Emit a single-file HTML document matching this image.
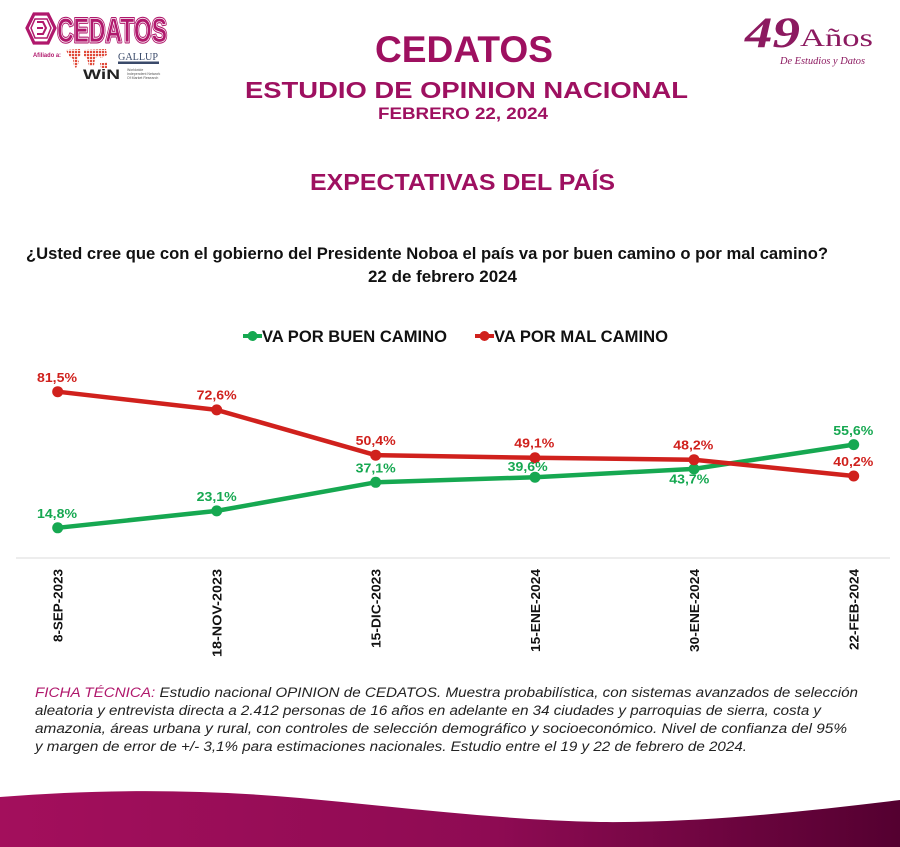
<!DOCTYPE html>
<html>
<head>
<meta charset="utf-8">
<style>
  html,body{margin:0;padding:0;background:#fff;}
  body{width:900px;height:847px;overflow:hidden;}
  svg{display:block;}
</style>
</head>
<body>
<svg width="900" height="847" viewBox="0 0 900 847" xmlns="http://www.w3.org/2000/svg">
  <defs>
    <linearGradient id="band" x1="0" y1="0" x2="1" y2="0">
      <stop offset="0" stop-color="#a30f5c"/>
      <stop offset="0.55" stop-color="#8e0b53"/>
      <stop offset="1" stop-color="#540030"/>
    </linearGradient>
    <pattern id="dots" width="3" height="3" patternUnits="userSpaceOnUse">
      <rect width="2.2" height="2.2" fill="#e04a3a"/>
    </pattern>
  </defs>
  <rect width="900" height="847" fill="#ffffff"/>

  <!-- CEDATOS logo -->
  <g>
    <polygon points="34,14 48,14 55,28 48,43 34,43 27,28" fill="#fff" stroke="#b0186c" stroke-width="3.2"/>
    <polygon points="35,19 47,19 51,28 47,38 35,38 31,28" fill="none" stroke="#b0186c" stroke-width="1.5"/>
    <path d="M37,22 L43,22 L46,28 L43,34 L37,34 M37,28 L43,28" fill="none" stroke="#b0186c" stroke-width="2"/>
    <text x="57" y="42" font-family="Liberation Sans, sans-serif" font-weight="bold" font-size="34" fill="#b0186c" stroke="#b0186c" stroke-width="3" stroke-linejoin="round" textLength="110" lengthAdjust="spacingAndGlyphs">CEDATOS</text>
    <text x="57" y="42" font-family="Liberation Sans, sans-serif" font-weight="bold" font-size="34" fill="none" stroke="#fff" stroke-width="0.8" textLength="110" lengthAdjust="spacingAndGlyphs">CEDATOS</text>
    <text x="33" y="57" font-family="Liberation Sans, sans-serif" font-weight="bold" font-size="6" fill="#b0186c" textLength="28" lengthAdjust="spacingAndGlyphs">Afiliado a:</text>
    <!-- world map dots -->
    <g fill="url(#dots)">
      <path d="M66,50 L80,49 L81,55 L77,58 L79,62 L76,68 L74,66 L73,59 L69,56 Z"/>
      <path d="M84,50 L106,49 L107,55 L101,58 L99,56 L95,58 L94,66 L89,66 L87,58 L84,56 Z"/>
      <path d="M100,63 L107,62 L107,68 L101,68 Z"/>
    </g>
    <text x="118" y="60" font-family="Liberation Serif, serif" font-size="10" fill="#3a4a6a" textLength="40" lengthAdjust="spacingAndGlyphs">GALLUP</text>
    <rect x="118" y="61.5" width="41" height="2.5" fill="#3a4a6a"/>
    <text x="83" y="79" font-family="Liberation Sans, sans-serif" font-weight="bold" font-size="14" fill="#222" textLength="37" lengthAdjust="spacingAndGlyphs">WiN</text>
    <g font-family="Liberation Sans, sans-serif" font-size="3.5" fill="#555">
      <text x="127" y="71">Worldwide</text>
      <text x="127" y="75">Independent Network</text>
      <text x="127" y="79">Of Market Research</text>
    </g>
  </g>

  <!-- 49 Años logo -->
  <g fill="#8c1a60">
    <text x="745" y="47" font-family="Liberation Serif, serif" font-style="italic" font-weight="bold" font-size="43" textLength="55" lengthAdjust="spacingAndGlyphs">49</text>
    <text x="800" y="46" font-family="Liberation Serif, serif" font-size="25" textLength="73" lengthAdjust="spacingAndGlyphs">Años</text>
    <text x="780" y="64" font-family="Liberation Serif, serif" font-style="italic" font-size="10" textLength="85" lengthAdjust="spacingAndGlyphs">De Estudios y Datos</text>
  </g>

  <!-- Titles -->
  <g font-family="Liberation Sans, sans-serif" font-weight="bold" fill="#9e1060" text-anchor="start">
    <text x="375" y="62" font-size="37" textLength="178" lengthAdjust="spacingAndGlyphs">CEDATOS</text>
    <text x="245" y="98" font-size="23" textLength="443" lengthAdjust="spacingAndGlyphs">ESTUDIO DE OPINION NACIONAL</text>
    <text x="378" y="119" font-size="17" textLength="170" lengthAdjust="spacingAndGlyphs">FEBRERO 22, 2024</text>
    <text x="310" y="190" font-size="23" textLength="305" lengthAdjust="spacingAndGlyphs">EXPECTATIVAS DEL PAÍS</text>
  </g>

  <!-- Question -->
  <g font-family="Liberation Sans, sans-serif" font-weight="bold" fill="#111">
    <text x="26" y="259" font-size="16.5" textLength="802" lengthAdjust="spacingAndGlyphs">¿Usted cree que con el gobierno del Presidente Noboa el país va por buen camino o por mal camino?</text>
    <text x="368" y="282" font-size="16.5" textLength="149" lengthAdjust="spacingAndGlyphs">22 de febrero 2024</text>
  </g>

  <!-- Legend -->
  <g>
    <line x1="243" y1="336" x2="262" y2="336" stroke="#16a851" stroke-width="4"/>
    <circle cx="252.5" cy="336" r="5" fill="#16a851"/>
    <text x="262" y="342" font-family="Liberation Sans, sans-serif" font-weight="bold" font-size="16.5" fill="#111" textLength="185" lengthAdjust="spacingAndGlyphs">VA POR BUEN CAMINO</text>
    <line x1="475" y1="336" x2="494" y2="336" stroke="#d0211d" stroke-width="4"/>
    <circle cx="484.5" cy="336" r="5" fill="#d0211d"/>
    <text x="494" y="342" font-family="Liberation Sans, sans-serif" font-weight="bold" font-size="16.5" fill="#111" textLength="174" lengthAdjust="spacingAndGlyphs">VA POR MAL CAMINO</text>
  </g>

  <!-- Axis line -->
  <line x1="16" y1="558" x2="890" y2="558" stroke="#e2e2e2" stroke-width="1.2"/>

  <!-- Green series -->
  <polyline points="57.7,527.8 216.7,510.9 375.7,482.3 535,477.2 694,468.9 853.7,444.6" fill="none" stroke="#16a851" stroke-width="4.5" stroke-linejoin="round"/>
  <g fill="#16a851">
    <circle cx="57.7" cy="527.8" r="5.5"/>
    <circle cx="216.7" cy="510.9" r="5.5"/>
    <circle cx="375.7" cy="482.3" r="5.5"/>
    <circle cx="535" cy="477.2" r="5.5"/>
    <circle cx="694" cy="468.9" r="5.5"/>
    <circle cx="853.7" cy="444.6" r="5.5"/>
  </g>

  <!-- Red series -->
  <polyline points="57.7,391.7 216.7,409.9 375.7,455.2 535,457.8 694,459.7 853.7,476" fill="none" stroke="#d0211d" stroke-width="4.5" stroke-linejoin="round"/>
  <g fill="#d0211d">
    <circle cx="57.7" cy="391.7" r="5.5"/>
    <circle cx="216.7" cy="409.9" r="5.5"/>
    <circle cx="375.7" cy="455.2" r="5.5"/>
    <circle cx="535" cy="457.8" r="5.5"/>
    <circle cx="694" cy="459.7" r="5.5"/>
    <circle cx="853.7" cy="476" r="5.5"/>
  </g>

  <!-- Value labels -->
  <g font-family="Liberation Sans, sans-serif" font-weight="bold" font-size="13" text-anchor="middle">
    <g fill="#d0211d">
      <text x="57" y="382" textLength="40" lengthAdjust="spacingAndGlyphs">81,5%</text>
      <text x="216.7" y="399.5" textLength="40" lengthAdjust="spacingAndGlyphs">72,6%</text>
      <text x="375.7" y="445" textLength="40" lengthAdjust="spacingAndGlyphs">50,4%</text>
      <text x="534.3" y="447.5" textLength="40" lengthAdjust="spacingAndGlyphs">49,1%</text>
      <text x="693.3" y="449.5" textLength="40" lengthAdjust="spacingAndGlyphs">48,2%</text>
      <text x="853.3" y="466" textLength="40" lengthAdjust="spacingAndGlyphs">40,2%</text>
    </g>
    <g fill="#16a851">
      <text x="57" y="518" textLength="40" lengthAdjust="spacingAndGlyphs">14,8%</text>
      <text x="216.7" y="501" textLength="40" lengthAdjust="spacingAndGlyphs">23,1%</text>
      <text x="375.7" y="472.5" textLength="40" lengthAdjust="spacingAndGlyphs">37,1%</text>
      <text x="527.7" y="471" textLength="40" lengthAdjust="spacingAndGlyphs">39,6%</text>
      <text x="689.3" y="483.5" textLength="40" lengthAdjust="spacingAndGlyphs">43,7%</text>
      <text x="853.3" y="435" textLength="40" lengthAdjust="spacingAndGlyphs">55,6%</text>
    </g>
  </g>

  <!-- Date labels (rotated) -->
  <g font-family="Liberation Sans, sans-serif" font-weight="bold" font-size="13" fill="#111" text-anchor="end">
    <text transform="translate(62.5,569) rotate(-90)" textLength="73" lengthAdjust="spacingAndGlyphs">8-SEP-2023</text>
    <text transform="translate(221.5,569) rotate(-90)" textLength="88" lengthAdjust="spacingAndGlyphs">18-NOV-2023</text>
    <text transform="translate(380.5,569) rotate(-90)" textLength="79" lengthAdjust="spacingAndGlyphs">15-DIC-2023</text>
    <text transform="translate(540,569) rotate(-90)" textLength="83" lengthAdjust="spacingAndGlyphs">15-ENE-2024</text>
    <text transform="translate(699,569) rotate(-90)" textLength="83" lengthAdjust="spacingAndGlyphs">30-ENE-2024</text>
    <text transform="translate(858.5,569) rotate(-90)" textLength="81" lengthAdjust="spacingAndGlyphs">22-FEB-2024</text>
  </g>

  <!-- Footnote -->
  <g font-family="Liberation Sans, sans-serif" font-style="italic" font-size="13.5" fill="#222">
    <text x="35" y="697" textLength="823" lengthAdjust="spacingAndGlyphs"><tspan fill="#b0186c">FICHA TÉCNICA:</tspan> Estudio nacional OPINION de CEDATOS. Muestra probabilística, con sistemas avanzados de selección</text>
    <text x="35" y="715" textLength="786" lengthAdjust="spacingAndGlyphs">aleatoria y entrevista directa a 2.412  personas de 16 años en adelante en 34 ciudades y parroquias de sierra, costa y</text>
    <text x="35" y="733" textLength="812" lengthAdjust="spacingAndGlyphs">amazonia, áreas urbana y rural, con controles de selección demográfico y socioeconómico. Nivel de confianza del 95%</text>
    <text x="35" y="751" textLength="712" lengthAdjust="spacingAndGlyphs">y margen de error de +/- 3,1% para estimaciones nacionales. Estudio entre el 19 y 22 de febrero de 2024.</text>
  </g>

  <!-- Bottom band -->
  <path d="M0,797 C100,789 200,789 300,798 C400,807 500,820 600,822 C700,823 800,812 900,800 L900,847 L0,847 Z" fill="url(#band)"/>
</svg>
</body>
</html>
